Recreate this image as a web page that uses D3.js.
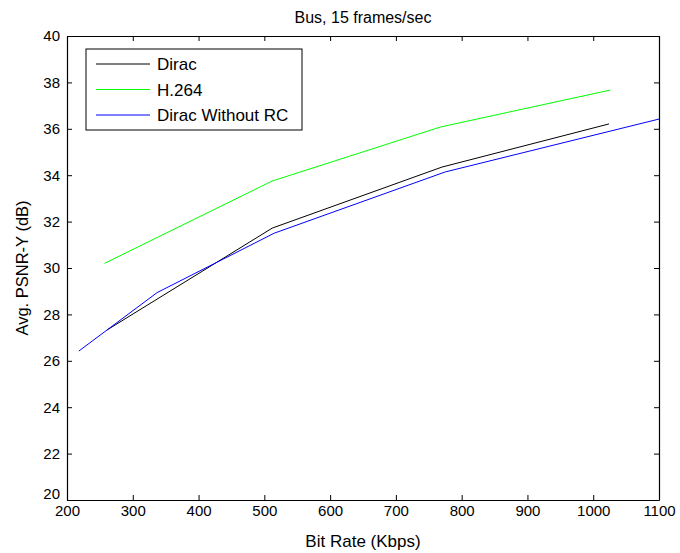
<!DOCTYPE html>
<html>
<head>
<meta charset="utf-8">
<script src="https://cdn.jsdelivr.net/npm/d3@7"></script>
<style>
  body { margin: 0; background: #fff; }
  svg text { font-family: "Liberation Sans", Arial, sans-serif; fill: #000; }
</style>
</head>
<body>
<div class="canvas"></div>
<script>
// data (bit rate in Kbps, PSNR in dB)
const diracRate = [261, 512, 770, 1024];
const diracPsnr = [27.33, 31.72, 34.35, 36.21];

const h264Rate = [257, 512, 768, 1026];
const h264Psnr = [30.2, 33.75, 36.08, 37.67];

const noRcRate = [218, 337, 515, 775, 1100];
const noRcPsnr = [26.42, 28.94, 31.5, 34.14, 36.42];

const xTicks = [200, 300, 400, 500, 600, 700, 800, 900, 1000, 1100];
const yTicks = [20, 22, 24, 26, 28, 30, 32, 34, 36, 38, 40];

const seriesNames = ['Dirac', 'H.264', 'Dirac Without RC'];
const seriesColors = ['#000000', '#00ff00', '#0000ff'];

// margins
const margin = { top: 36, right: 21, bottom: 53, left: 67 };
const width = 680;
const height = 553;
const graphWidth = width - margin.left - margin.right;
const graphHeight = height - margin.top - margin.bottom;

const svg = d3.select('.canvas')
    .append('svg')
    .attr('width', width)
    .attr('height', height);

const graph = svg.append('g')
    .attr('transform', `translate(${margin.left}, ${margin.top})`);

// scales
const x = d3.scaleLinear().domain([200, 1100]).range([0, graphWidth]);
const y = d3.scaleLinear().domain([20, 40]).range([graphHeight, 0]);

// clip for lines
svg.append('defs').append('clipPath')
    .attr('id', 'plot-clip')
  .append('rect')
    .attr('width', graphWidth)
    .attr('height', graphHeight);

// series
const series = [
    { rate: diracRate, psnr: diracPsnr },
    { rate: h264Rate, psnr: h264Psnr },
    { rate: noRcRate, psnr: noRcPsnr }
];

const line = d3.line()
    .x(d => x(d[0]))
    .y(d => y(d[1]));

const lines = graph.append('g').attr('clip-path', 'url(#plot-clip)');

series.forEach((s, i) => {
    lines.append('path')
        .datum(s.rate.map((r, j) => [r, s.psnr[j]]))
        .attr('d', line)
        .attr('fill', 'none')
        .attr('stroke', seriesColors[i])
        .attr('stroke-width', 1);
});

// axes, ticks pointing inward
const xAxis = d3.axisBottom(x).tickValues(xTicks).tickFormat(d3.format('d'))
    .tickSizeInner(-5).tickSizeOuter(0).tickPadding(4);
const yAxis = d3.axisLeft(y).tickValues(yTicks).tickFormat(d3.format('d'))
    .tickSizeInner(-5).tickSizeOuter(0).tickPadding(7);
const xTop = d3.axisTop(x).tickValues(xTicks).tickSizeInner(-5).tickSizeOuter(0).tickFormat('');
const yRight = d3.axisRight(y).tickValues(yTicks).tickSizeInner(-5).tickSizeOuter(0).tickFormat('');

const xAxisGroup = graph.append('g')
    .attr('transform', `translate(0, ${graphHeight})`)
    .call(xAxis);
const yAxisGroup = graph.append('g').call(yAxis);
graph.append('g').call(xTop);
graph.append('g').attr('transform', `translate(${graphWidth}, 0)`).call(yRight);

graph.selectAll('.domain').attr('stroke', '#000').attr('stroke-width', 1.2);
graph.selectAll('.tick line').attr('stroke', '#000');
graph.selectAll('.tick text').attr('font-size', 15).attr('fill', '#000')
    .style('font-family', '"Liberation Sans", Arial, sans-serif');

// matlab-like nudge of the corner label
yAxisGroup.selectAll('.tick text').filter(d => d === 20).attr('dy', '-0.1em');
xAxisGroup.selectAll('.tick text').attr('dy', '0.8em');

// title and labels
svg.append('text')
    .attr('x', margin.left + graphWidth / 2)
    .attr('y', 23)
    .attr('text-anchor', 'middle')
    .attr('font-size', 16)
    .text('Bus, 15 frames/sec');

svg.append('text')
    .attr('x', margin.left + graphWidth / 2)
    .attr('y', 547)
    .attr('text-anchor', 'middle')
    .attr('font-size', 17)
    .text('Bit Rate (Kbps)');

svg.append('text')
    .attr('transform', `translate(28, ${margin.top + graphHeight / 2}) rotate(-90)`)
    .attr('text-anchor', 'middle')
    .attr('font-size', 16.5)
    .text('Avg. PSNR-Y (dB)');

// legend
const legend = svg.append('g').attr('transform', 'translate(86, 49)');

legend.append('rect')
    .attr('width', 216)
    .attr('height', 81)
    .attr('fill', '#fff')
    .attr('stroke', '#000')
    .attr('stroke-width', 1);

seriesNames.forEach((name, i) => {
    const row = legend.append('g').attr('transform', `translate(0, ${15 + i * 25.5})`);
    row.append('line')
        .attr('x1', 10).attr('x2', 64)
        .attr('stroke', seriesColors[i])
        .attr('stroke-width', 1);
    row.append('text')
        .attr('x', 71)
        .attr('dy', '0.36em')
        .attr('font-size', 17)
        .text(name);
});
</script>
</body>
</html>
